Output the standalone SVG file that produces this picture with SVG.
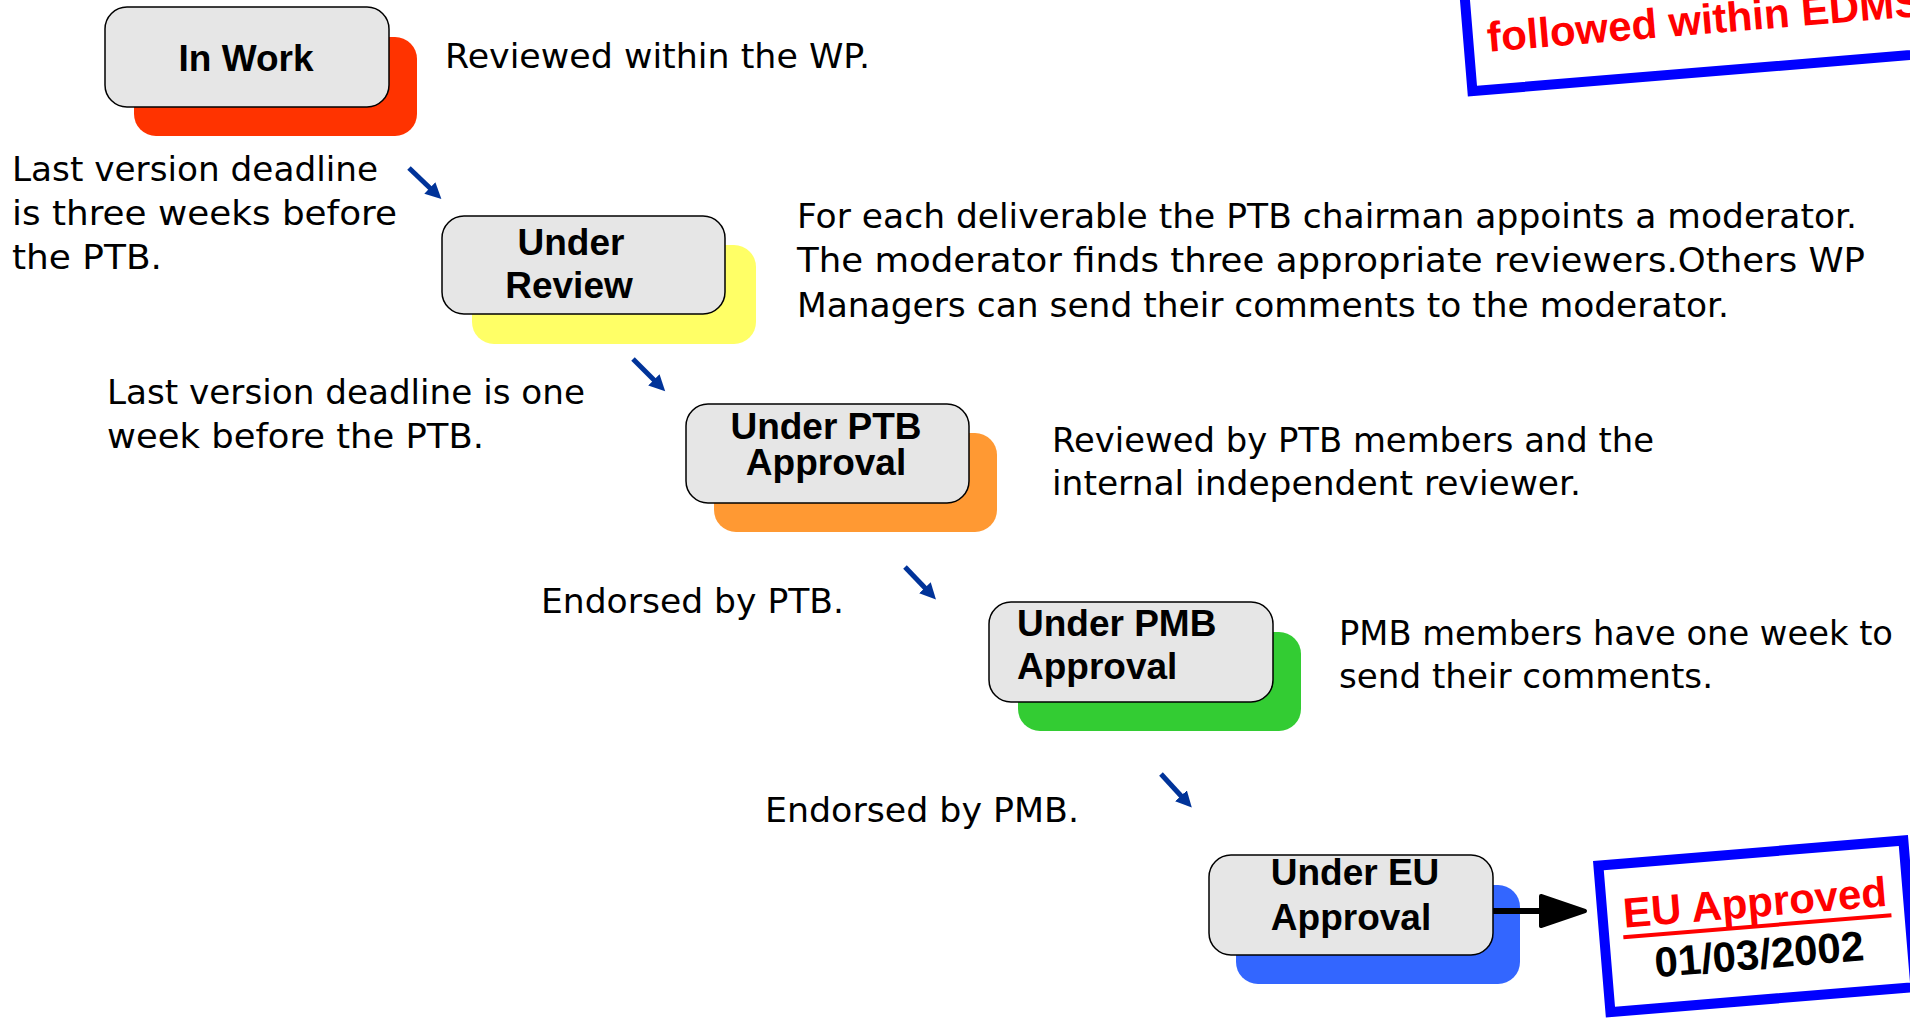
<svg xmlns="http://www.w3.org/2000/svg" width="1910" height="1020" viewBox="0 0 1910 1020">
<style>
.box{fill:#E6E6E6;stroke:#000;stroke-width:1.5}
.lbl{font-family:"Liberation Sans",Arial,sans-serif;font-weight:bold;font-size:37px;fill:#000}
.note{font-family:"DejaVu Sans",sans-serif;font-size:34px;fill:#000}
.stamp{fill:#fff;stroke:#0000FF;stroke-width:10}
.stxt{font-family:"Liberation Sans",Arial,sans-serif;font-weight:bold;font-size:42px}
.ba{stroke:#003399;stroke-width:5;fill:none}
</style>
<defs>
<marker id="bh" markerUnits="userSpaceOnUse" markerWidth="20" markerHeight="20" refX="3" refY="8" orient="auto">
<path d="M0,0 L16,8 L0,16 z" fill="#003399"/>
</marker>
<marker id="kh" markerUnits="userSpaceOnUse" markerWidth="52" markerHeight="40" refX="4" refY="18" orient="auto">
<path d="M3,3 L47,18 L3,33 z" fill="#000" stroke="#000" stroke-width="4" stroke-linejoin="round"/>
</marker>
</defs>
<rect width="1910" height="1020" fill="#fff"/>

<g id="stamp-top" transform="translate(1455,-60) rotate(-4.7)">
<rect class="stamp" x="5" y="5" width="620" height="147"/>
<text class="stxt" x="24" y="114" fill="#FF0000">followed within EDMS</text>
</g>

<g id="node-inwork">
<rect x="134" y="37" width="283" height="99" rx="22" fill="#FF3300"/>
<rect class="box" x="105" y="7" width="284" height="100" rx="22"/>
<text class="lbl" x="246" y="71" text-anchor="middle">In Work</text>
</g>
<g id="node-review">
<rect x="472" y="245" width="284" height="99" rx="22" fill="#FFFF66"/>
<rect class="box" x="442" y="216" width="283" height="98" rx="22"/>
<text class="lbl" text-anchor="middle"><tspan x="571" y="255">Under</tspan><tspan x="569" y="298">Review</tspan></text>
</g>
<g id="node-ptb">
<rect x="714" y="433" width="283" height="99" rx="22" fill="#FF9933"/>
<rect class="box" x="686" y="404" width="283" height="99" rx="22"/>
<text class="lbl" text-anchor="middle"><tspan x="826" y="439">Under PTB</tspan><tspan x="826" y="475">Approval</tspan></text>
</g>
<g id="node-pmb">
<rect x="1018" y="632" width="283" height="99" rx="22" fill="#33CC33"/>
<rect class="box" x="989" y="602" width="284" height="100" rx="22"/>
<text class="lbl"><tspan x="1017" y="636">Under PMB</tspan><tspan x="1017" y="679">Approval</tspan></text>
</g>
<g id="node-eu">
<rect x="1236" y="885" width="284" height="99" rx="22" fill="#3366FF"/>
<rect class="box" x="1209" y="855" width="284" height="100" rx="22"/>
<text class="lbl" text-anchor="middle"><tspan x="1355" y="885">Under EU</tspan><tspan x="1351" y="930">Approval</tspan></text>
</g>

<g id="stamp-eu" transform="translate(1593,861) rotate(-4.7)">
<rect class="stamp" x="5" y="5" width="306" height="147"/>
<text class="stxt" x="158" y="69" text-anchor="middle" fill="#FF0000">EU Approved</text>
<line x1="24" y1="78.5" x2="293" y2="78.5" stroke="#FF0000" stroke-width="4"/>
<text class="stxt" x="158" y="121" text-anchor="middle" fill="#000">01/03/2002</text>
</g>

<g id="connectors">
<line class="ba" x1="409" y1="168" x2="432" y2="190" marker-end="url(#bh)"/>
<line class="ba" x1="633" y1="359" x2="656" y2="382" marker-end="url(#bh)"/>
<line class="ba" x1="905" y1="567" x2="927" y2="590" marker-end="url(#bh)"/>
<line class="ba" x1="1161" y1="774" x2="1183" y2="798" marker-end="url(#bh)"/>
<line x1="1493" y1="911" x2="1542" y2="911" stroke="#000" stroke-width="6" marker-end="url(#kh)"/>
</g>

<g id="notes">
<text class="note" x="445" y="68" textLength="425" lengthAdjust="spacingAndGlyphs">Reviewed within the WP.</text>
<text class="note" x="12" y="181" textLength="366" lengthAdjust="spacingAndGlyphs">Last version deadline</text>
<text class="note" x="12" y="225" textLength="385" lengthAdjust="spacingAndGlyphs">is three weeks before</text>
<text class="note" x="12" y="269" textLength="150" lengthAdjust="spacingAndGlyphs">the PTB.</text>
<text class="note" x="107" y="404" textLength="478" lengthAdjust="spacingAndGlyphs">Last version deadline is one</text>
<text class="note" x="107" y="448" textLength="377" lengthAdjust="spacingAndGlyphs">week before the PTB.</text>
<text class="note" x="797" y="228" textLength="1060" lengthAdjust="spacingAndGlyphs">For each deliverable the PTB chairman appoints a moderator.</text>
<text class="note" x="797" y="272" textLength="1068" lengthAdjust="spacingAndGlyphs">The moderator finds three appropriate reviewers.Others WP</text>
<text class="note" x="797" y="317" textLength="932" lengthAdjust="spacingAndGlyphs">Managers can send their comments to the moderator.</text>
<text class="note" x="1052" y="452" textLength="602" lengthAdjust="spacingAndGlyphs">Reviewed by PTB members and the</text>
<text class="note" x="1052" y="495" textLength="529" lengthAdjust="spacingAndGlyphs">internal independent reviewer.</text>
<text class="note" x="541" y="613" textLength="303" lengthAdjust="spacingAndGlyphs">Endorsed by PTB.</text>
<text class="note" x="1339" y="645" textLength="554" lengthAdjust="spacingAndGlyphs">PMB members have one week to</text>
<text class="note" x="1339" y="688" textLength="374" lengthAdjust="spacingAndGlyphs">send their comments.</text>
<text class="note" x="765" y="822" textLength="314" lengthAdjust="spacingAndGlyphs">Endorsed by PMB.</text>
</g>
</svg>
